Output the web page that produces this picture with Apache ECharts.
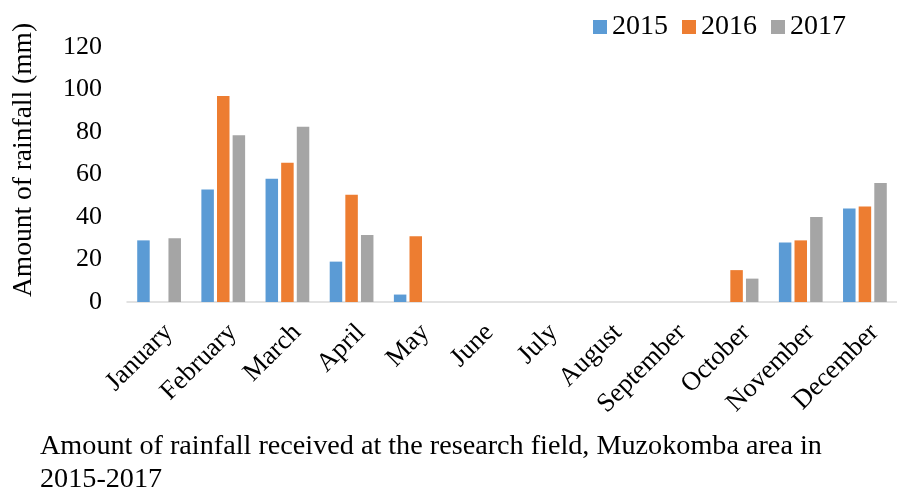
<!DOCTYPE html>
<html>
<head>
<meta charset="utf-8">
<script src="https://cdn.jsdelivr.net/npm/echarts@6/dist/echarts.min.js"></script>
<style>
  html, body { margin: 0; padding: 0; background: #fff; }
  #chart { width: 897px; height: 494px; }
</style>
</head>
<body>
<div id="chart"></div>
<script>
const months = ['January', 'February', 'March', 'April', 'May', 'June', 'July',
  'August', 'September', 'October', 'November', 'December'];
const rain2015 = [29, 53, 58, 19, 3.5, 0, 0, 0, 0, 0, 28, 44];
const rain2016 = [0, 97, 65.5, 50.5, 31, 0, 0, 0, 0, 15, 29, 45];
const rain2017 = [30, 78.5, 82.5, 31.5, 0, 0, 0, 0, 0, 11, 40, 56];
const years = ['2015', '2016', '2017'];
const colors = ['#5b9bd5', '#ed7d31', '#a5a5a5'];

const font = 'Liberation Serif';
const chart = echarts.init(document.getElementById('chart'));

const option = {
  animation: false,
  color: colors,
  grid: { left: 127, right: -13, top: 47, bottom: 192, containLabel: false },
  legend: {
    data: years,
    left: 588,
    top: 8,
    icon: 'rect',
    itemWidth: 14,
    itemHeight: 14,
    itemGap: 14,
    textStyle: { fontFamily: font, fontSize: 28, color: '#000' }
  },
  xAxis: {
    type: 'category',
    data: months,
    axisLine: { lineStyle: { color: '#d9d9d9', width: 1.5 } },
    axisTick: { show: false },
    axisLabel: {
      rotate: 45,
      interval: 0,
      margin: 17,
      align: 'right',
      verticalAlign: 'top',
      fontFamily: font,
      fontSize: 26.5,
      color: '#000'
    }
  },
  yAxis: {
    type: 'value',
    min: 0,
    max: 120,
    interval: 20,
    splitLine: { show: false },
    axisLine: { show: false },
    axisTick: { show: false },
    axisLabel: { margin: 25, fontFamily: font, fontSize: 26, color: '#000' }
  },
  graphic: [
    {
      type: 'text',
      x: 24,
      y: 160,
      rotation: Math.PI / 2,
      style: {
        text: 'Amount of rainfall (mm)',
        fontFamily: font,
        fontSize: 27.5,
        fill: '#000',
        align: 'center',
        verticalAlign: 'middle'
      }
    },
    {
      type: 'text',
      left: 40,
      top: 430,
      style: {
        text: 'Amount of rainfall received at the research field, Muzokomba area in\n2015-2017',
        fontFamily: font,
        fontSize: 28.2,
        lineHeight: 33,
        fill: '#000'
      }
    }
  ],
  series: years.map((y, i) => ({
    name: y,
    type: 'bar',
    data: [rain2015, rain2016, rain2017][i],
    barWidth: 12.5,
    barGap: '25%'
  }))
};

chart.setOption(option);
</script>
</body>
</html>
